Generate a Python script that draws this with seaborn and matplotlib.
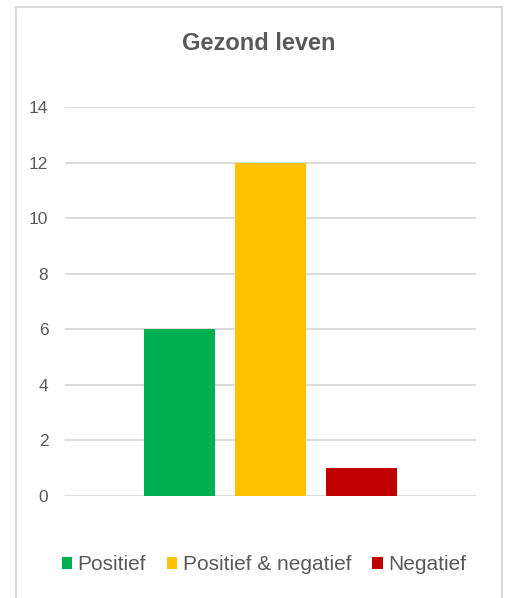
import matplotlib
import pandas as pd
import seaborn as sns

matplotlib.use("Agg")
import matplotlib.pyplot as plt
from matplotlib.patches import Rectangle

TITLE = "Gezond leven"
CATEGORY = ["Gezond leven"]
SERIES = ["Positief", "Positief & negatief", "Negatief"]
VALUES = [6, 12, 1]
COLORS = ["#00B050", "#FFC000", "#C00000"]
Y_TICKS = [0, 2, 4, 6, 8, 10, 12, 14]

TEXT = "#595959"
GRID = "#D9D9D9"

df = pd.DataFrame({"groep": CATEGORY * len(SERIES), "reactie": SERIES, "aantal": VALUES})

sns.set_theme(style="white")
plt.rcParams["font.family"] = ["Liberation Sans", "DejaVu Sans"]

W, H = 507, 598
fig = plt.figure(figsize=(W / 100, H / 100), dpi=100)
ax = fig.add_axes([65 / W, 1 - 496 / H, (476 - 65) / W, (496 - 107) / H])

sns.barplot(
    data=df, x="groep", y="aantal", hue="reactie", hue_order=SERIES,
    palette=COLORS, width=0.664, gap=0.21, saturation=1, linewidth=0,
    ax=ax, legend=True,
)

ax.set_xlim(-0.5, 0.5)
ax.set_ylim(0, 14)
ax.set_yticks(Y_TICKS)
ax.set_xticks([])
ax.set_xlabel("")
ax.set_ylabel("")
ax.yaxis.grid(True, color=GRID, linewidth=1.3)
ax.set_axisbelow(True)
for s in ax.spines.values():
    s.set_visible(False)
ax.tick_params(axis="y", length=0, pad=12, labelsize=12.5, labelcolor=TEXT)

handles, labels = ax.get_legend_handles_labels()
ax.get_legend().remove()
fig.legend(
    handles, labels, loc="center", bbox_to_anchor=(264 / W, 1 - 565 / H),
    ncol=3, frameon=False, fontsize=15, labelcolor=TEXT,
    handlelength=0.5, handleheight=0.5, handletextpad=0.27, columnspacing=1.0,
)

fig.text(259 / W, 1 - 43 / H, TITLE, ha="center", va="center",
         fontsize=17, fontweight="bold", color=TEXT)

fig.patches.append(Rectangle(
    (16 / W, -0.02), (502 - 16) / W, (H - 7) / H + 0.02,
    transform=fig.transFigure, fill=False, edgecolor=GRID, linewidth=1.5,
))

fig.savefig("out.png", dpi=100, facecolor="white")
